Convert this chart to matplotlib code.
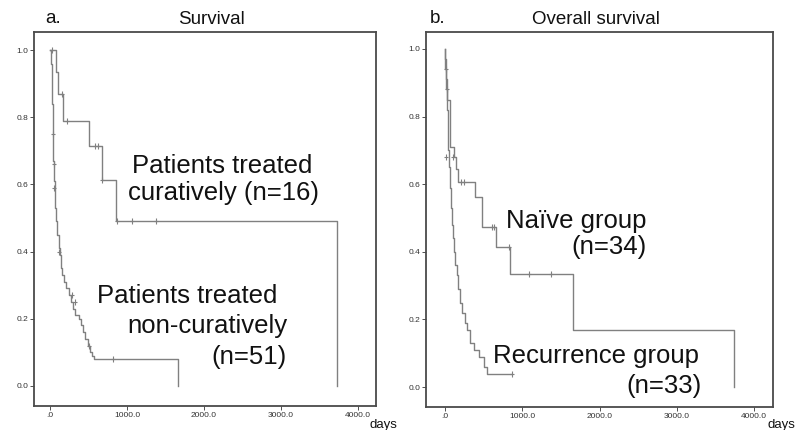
import matplotlib.pyplot as plt

plt.rcParams['font.family'] = ['Liberation Sans', 'DejaVu Sans']

# ---- panel a: survival by treatment intent ----
cur_t = [0, 80, 100, 170, 505, 675, 860, 3730]
cur_s = [1.0, 0.935, 0.87, 0.79, 0.714, 0.613, 0.49, 0.0]
cur_cens_t = [20, 155, 220, 580, 620, 680, 870, 1060, 1370]
cur_cens_s = [1.0, 0.87, 0.79, 0.714, 0.714, 0.613, 0.49, 0.49, 0.49]

non_t = [0, 15, 22, 28, 33, 38, 43, 50, 60, 70, 80, 95, 110, 125, 140, 160, 180,
         210, 240, 270, 300, 330, 370, 400, 430, 460, 490, 520, 545, 565, 1660]
non_s = [1.0, 0.96, 0.90, 0.84, 0.78, 0.72, 0.67, 0.61, 0.57, 0.53, 0.49, 0.45, 0.41,
         0.39, 0.35, 0.33, 0.31, 0.29, 0.27, 0.25, 0.23, 0.21, 0.20, 0.18, 0.16, 0.14,
         0.12, 0.10, 0.09, 0.08, 0.0]
non_cens_t = [35, 45, 52, 120, 280, 325, 510, 820]
non_cens_s = [0.75, 0.66, 0.59, 0.40, 0.27, 0.25, 0.12, 0.08]

# ---- panel b: overall survival by group ----
nai_t = [0, 5, 15, 30, 60, 115, 140, 170, 390, 480, 660, 840, 1650, 3740]
nai_s = [1.0, 0.97, 0.91, 0.85, 0.71, 0.68, 0.645, 0.607, 0.563, 0.473, 0.414, 0.334, 0.168, 0.0]
nai_cens_t = [10, 20, 100, 210, 250, 610, 630, 830, 1085, 1370]
nai_cens_s = [0.94, 0.88, 0.68, 0.607, 0.607, 0.473, 0.473, 0.414, 0.334, 0.334]

rec_t = [0, 5, 15, 25, 35, 45, 55, 65, 75, 85, 100, 115, 130, 150, 170, 195, 225,
         260, 290, 320, 380, 440, 500, 545, 870]
rec_s = [1.0, 0.94, 0.88, 0.82, 0.76, 0.70, 0.65, 0.59, 0.53, 0.48, 0.44, 0.40, 0.36,
         0.33, 0.29, 0.25, 0.22, 0.19, 0.17, 0.13, 0.11, 0.09, 0.06, 0.04, 0.04]
rec_cens_t = [10, 870]
rec_cens_s = [0.68, 0.04]

xticks = [0, 1000, 2000, 3000, 4000]
xlabels = ['.0', '1000.0', '2000.0', '3000.0', '4000.0']
yticks = [0.0, 0.2, 0.4, 0.6, 0.8, 1.0]
ylabels = ['0.0', '0.2', '0.4', '0.6', '0.8', '1.0']

curve_col = '#808080'
frame_col = '#4a4a4a'

fig = plt.figure(figsize=(7.97, 4.30), dpi=100)
axA = fig.add_axes([0.0427, 0.0558, 0.4291, 0.8698])
axB = fig.add_axes([0.5345, 0.0535, 0.4354, 0.8721])


def style(ax, xlim, ylim):
    ax.set_xlim(*xlim)
    ax.set_ylim(*ylim)
    ax.set_xticks(xticks)
    ax.set_xticklabels(xlabels)
    ax.set_yticks(yticks)
    ax.set_yticklabels(ylabels)
    ax.tick_params(labelsize=6, length=3, width=0.6, colors='#333333', pad=1)
    for sp in ax.spines.values():
        sp.set_color(frame_col)
        sp.set_linewidth(1.3)


def km(ax, t, s, ct, cs):
    ax.step(t, s, where='post', color=curve_col, lw=1.0)
    ax.plot(ct, cs, linestyle='none', marker='|', ms=4, mew=0.8, color=curve_col)
    ax.plot(ct, cs, linestyle='none', marker='_', ms=3, mew=0.8, color=curve_col)


km(axA, cur_t, cur_s, cur_cens_t, cur_cens_s)
km(axA, non_t, non_s, non_cens_t, non_cens_s)
style(axA, (-208, 4233), (-0.06, 1.054))

km(axB, nai_t, nai_s, nai_cens_t, nai_cens_s)
km(axB, rec_t, rec_s, rec_cens_t, rec_cens_s)
style(axB, (-246, 4243), (-0.059, 1.050))

big = 18.5
tc = '#111111'
axA.text(1065, 0.634, 'Patients treated', fontsize=big, color=tc, va='baseline')
axA.text(1013, 0.554, 'curatively (n=16)', fontsize=big, color=tc, va='baseline')
axA.text(610, 0.247, 'Patients treated', fontsize=big, color=tc, va='baseline')
axA.text(3078, 0.158, 'non-curatively', fontsize=big, color=tc, va='baseline', ha='right')
axA.text(3078, 0.064, '(n=51)', fontsize=big, color=tc, va='baseline', ha='right')

axB.text(790, 0.47, 'Naïve group', fontsize=big, color=tc, va='baseline')
axB.text(2613, 0.393, '(n=34)', fontsize=big, color=tc, va='baseline', ha='right')
axB.text(621, 0.071, 'Recurrence group', fontsize=big, color=tc, va='baseline')
axB.text(3325, -0.018, '(n=33)', fontsize=big, color=tc, va='baseline', ha='right')

# titles and panel letters
tsize = 13.5
fig.text(45 / 797, 1 - 23 / 430, 'a.', fontsize=tsize, color=tc, va='baseline')
fig.text(211 / 797, 1 - 24 / 430, 'Survival', fontsize=tsize, color=tc, va='baseline', ha='center')
fig.text(430 / 797, 1 - 23 / 430, 'b.', fontsize=tsize, color=tc, va='baseline')
fig.text(596 / 797, 1 - 24 / 430, 'Overall survival', fontsize=tsize, color=tc, va='baseline', ha='center')

# x-axis unit label next to last tick
fig.text(370 / 797, 1 - 428 / 430, 'days', fontsize=9.5, color=tc, va='baseline')
fig.text(795 / 797, 1 - 428 / 430, 'days', fontsize=9.5, color=tc, va='baseline', ha='right')

fig.savefig('out.png', dpi=100)
